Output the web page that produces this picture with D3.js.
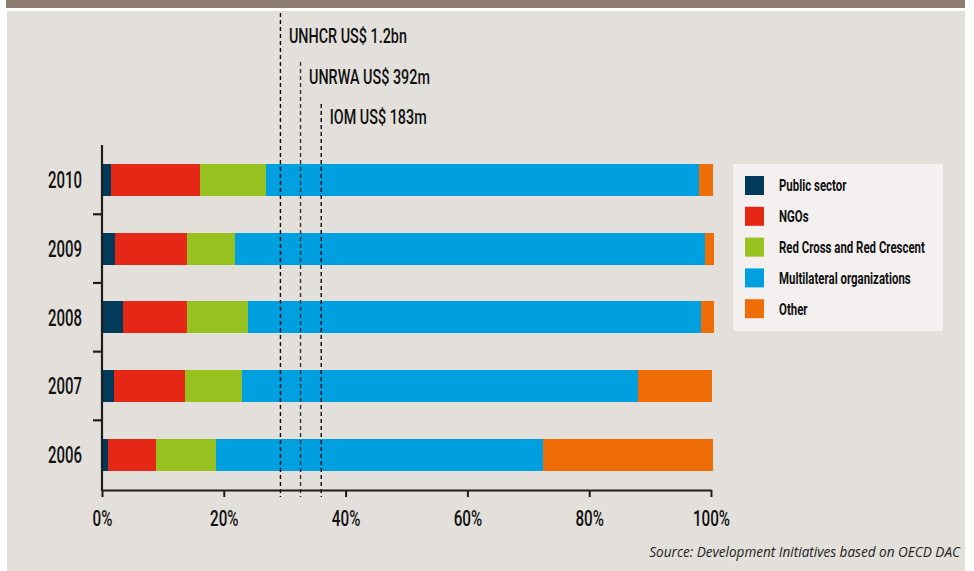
<!DOCTYPE html>
<html>
<head>
<meta charset="utf-8">
<script src="https://cdn.jsdelivr.net/npm/d3@7"></script>
<style>
  html, body { margin: 0; padding: 0; background: #ffffff; }
  svg { display: block; }
  .cond { font-family: Roboto, "Noto Sans", sans-serif; fill: #111; }
</style>
</head>
<body>
<svg id="chart" width="974" height="571"></svg>
<script>
// ---- data ----
const years = ["2010", "2009", "2008", "2007", "2006"];
const seriesNames = ["Public sector", "NGOs", "Red Cross and Red Crescent", "Multilateral organizations", "Other"];
const publicSector = [1.5, 2.1, 3.4, 2.0, 1.0];
const ngos = [14.6, 11.9, 10.6, 11.6, 7.9];
const redCross = [10.8, 7.8, 10.0, 9.4, 9.8];
const multilateral = [71.1, 77.2, 74.4, 65.0, 53.7];
const other = [2.3, 1.5, 2.1, 12.2, 27.9];
const xTicks = [0, 20, 40, 60, 80, 100];
const agencyLabels = ["UNHCR US$ 1.2bn", "UNRWA US$ 392m", "IOM US$ 183m"];
const agencyShares = [29.3, 32.6, 36.0];
const sourceText = "Source: Development Initiatives based on OECD DAC";

// ---- styles ----
const colors = ["#023a5a", "#e52715", "#97c11f", "#009fe0", "#ee6d06"];

const svg = d3.select("#chart");

// measure helper: horizontal squeeze so a sample string reaches a target width
function squeeze(sample, fontSize, weight, target) {
  const t = svg.append("text").attr("class", "cond").attr("font-size", fontSize)
    .attr("font-weight", weight).text(sample);
  const w = t.node().getComputedTextLength();
  t.remove();
  return w > 0 ? target / w : 1;
}

// background
svg.append("rect").attr("x", 0).attr("y", 0).attr("width", 974).attr("height", 571).attr("fill", "#ffffff");
svg.append("rect").attr("x", 6).attr("y", 0).attr("width", 959).attr("height", 8).attr("fill", "#8c7b6f");
svg.append("rect").attr("x", 7).attr("y", 11).attr("width", 958).attr("height", 560).attr("fill", "#e3dfdb");

// scales
const x = d3.scaleLinear().domain([0, 100]).range([102, 711]);
const y = d3.scaleBand().domain(years).range([145.4, 489.2]).paddingInner(0.5345).paddingOuter(0.27);

// stacked data
const table = years.map((yr, i) => ({
  year: yr,
  s0: publicSector[i], s1: ngos[i], s2: redCross[i], s3: multilateral[i], s4: other[i]
}));
const stack = d3.stack().keys(["s0", "s1", "s2", "s3", "s4"]);
const layers = stack(table);

svg.append("g").selectAll("g").data(layers).join("g")
  .attr("fill", (d, i) => colors[i])
  .selectAll("rect").data(d => d).join("rect")
  .attr("x", d => x(d[0]))
  .attr("width", d => x(d[1]) - x(d[0]))
  .attr("y", d => y(d.data.year))
  .attr("height", y.bandwidth())
  .attr("shape-rendering", "crispEdges");

// agency dashed lines
const lineTops = [13, 62, 104];
agencyShares.forEach((v, i) => {
  svg.append("line")
    .attr("x1", x(v)).attr("x2", x(v))
    .attr("y1", lineTops[i]).attr("y2", 497)
    .attr("stroke", i === 1 ? "#333" : "#0a0a0a")
    .attr("stroke-width", 1.4)
    .attr("stroke-dasharray", "4,3");
});
const annFS = 21, annK = squeeze("UNHCR US$ 1.2bn", annFS, 500, 118);
const labelYs = [35, 76, 116];
agencyLabels.forEach((t, i) => {
  svg.append("text").attr("class", "cond")
    .attr("transform", `translate(${x(agencyShares[i]) + 8.5},${labelYs[i]}) scale(${annK},1)`)
    .attr("dy", "0.36em")
    .attr("font-size", annFS)
    .attr("font-weight", 500)
    .text(t);
});

// x axis
const tickFS = 21.5, tickK = squeeze("40%", tickFS, 500, 28.5);
const xAxis = svg.append("g")
  .attr("transform", "translate(0,490)")
  .call(d3.axisBottom(x).tickValues(xTicks).tickFormat(d => d + "%").tickSize(7).tickSizeOuter(0).tickPadding(14));
xAxis.select(".domain").attr("stroke", "#1e1e1e").attr("stroke-width", 2.2);
xAxis.selectAll(".tick line").attr("stroke", "#1e1e1e").attr("stroke-width", 2);
xAxis.selectAll(".tick text")
  .attr("class", "cond")
  .attr("font-size", tickFS)
  .attr("font-weight", 500)
  .attr("fill", "#111")
  .attr("transform", `scale(${tickK},1)`);

// y axis line
svg.append("line").attr("x1", 102).attr("x2", 102).attr("y1", 145).attr("y2", 491)
  .attr("stroke", "#1e1e1e").attr("stroke-width", 2.2);
// y ticks between bands
const boundaries = years.slice(1).map(yr => y(yr) - (y.step() - y.bandwidth()) / 2);
svg.append("g").selectAll("line").data(boundaries).join("line")
  .attr("x1", 93).attr("x2", 102)
  .attr("y1", d => d).attr("y2", d => d)
  .attr("stroke", "#1e1e1e").attr("stroke-width", 2.2);
// y labels
const yFS = 23, yK = squeeze("2010", yFS, 500, 34);
svg.append("g").selectAll("text").data(years).join("text")
  .attr("class", "cond")
  .attr("transform", d => `translate(82,${y(d) + y.bandwidth() / 2}) scale(${yK},1)`)
  .attr("text-anchor", "end")
  .attr("dy", "0.36em")
  .attr("font-size", yFS)
  .attr("font-weight", 500)
  .text(d => d);

// legend
const lg = svg.append("g");
lg.append("rect").attr("x", 733).attr("y", 164).attr("width", 210).attr("height", 167).attr("fill", "#f3f0ef");
const legendTop = 176, legendStep = 30.8;
const lgFS = 16.5, lgK = squeeze("Red Cross and Red Crescent", lgFS, "bold", 146);
seriesNames.forEach((name, i) => {
  lg.append("rect").attr("x", 745).attr("y", legendTop + i * legendStep).attr("width", 19).attr("height", 19)
    .attr("fill", colors[i]);
  lg.append("text").attr("class", "cond")
    .attr("transform", `translate(779,${legendTop + i * legendStep + 9.5}) scale(${lgK},1)`)
    .attr("dy", "0.36em")
    .attr("font-size", lgFS)
    .attr("font-weight", "bold")
    .text(name);
});

// source
const src = svg.append("text")
  .attr("x", 960).attr("y", 552)
  .attr("text-anchor", "end")
  .attr("dy", "0.35em")
  .attr("font-family", "'Open Sans', 'Noto Sans', sans-serif")
  .attr("font-style", "italic")
  .attr("font-size", 12.5)
  .attr("fill", "#222")
  .text(sourceText);
const sw = src.node().getComputedTextLength();
if (sw > 0) src.attr("font-size", 12.5 * 311 / sw);
</script>
</body>
</html>
